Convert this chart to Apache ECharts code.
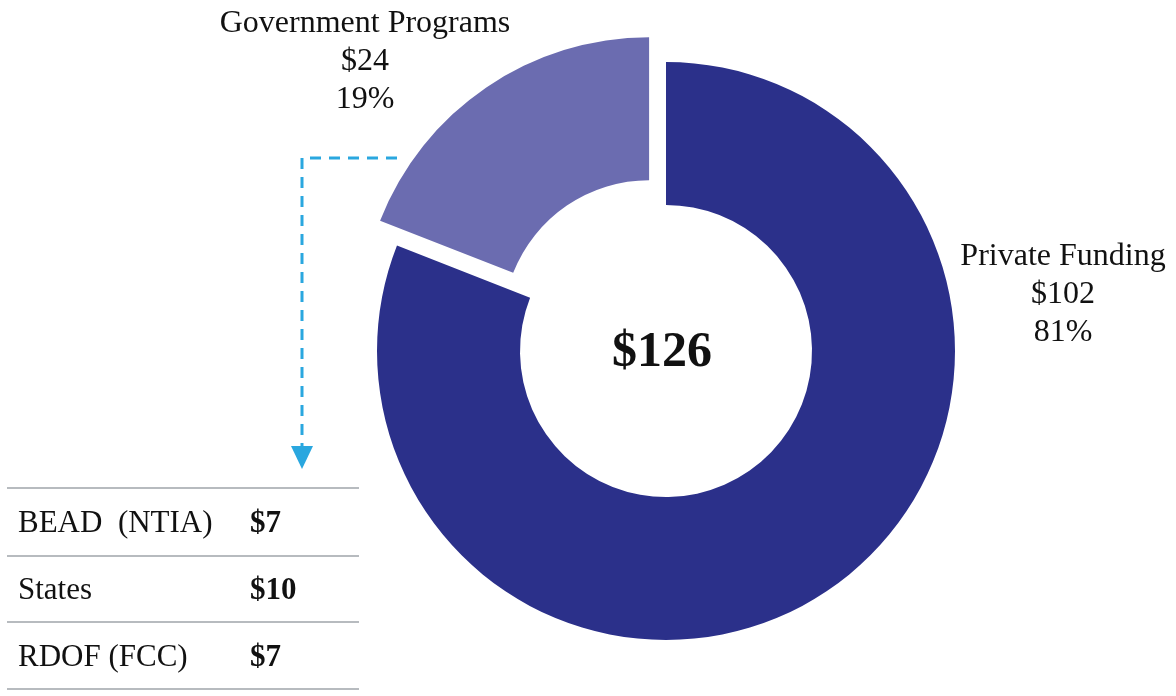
<!DOCTYPE html>
<html>
<head>
<meta charset="utf-8">
<script src="https://cdn.jsdelivr.net/npm/echarts@6/dist/echarts.min.js"></script>
<style>
  html, body { margin: 0; padding: 0; background: #fff; }
  #chart { width: 1176px; height: 696px; }
</style>
</head>
<body>
<div id="chart"></div>
<script>
// funding split (billions)
const sliceNames = ['Private Funding', 'Government Programs'];
const sliceValues = [102, 24];
const sliceColors = ['#2b308a', '#6b6cb0'];

// breakdown of government programs
const programNames = ['BEAD  (NTIA)', 'States', 'RDOF (FCC)'];
const programValues = [7, 10, 7];

const serif = "'Liberation Serif', 'Times New Roman', serif";
const total = sliceValues.reduce((a, b) => a + b, 0);

// where each slice label sits (centre of the 3-line block)
const labelSpots = [[1063, 295], [365, 62]];

let chart = echarts.init(document.getElementById('chart'));

let graphics = [];

// slice labels
sliceNames.forEach((name, i) => {
  let pct = Math.round(sliceValues[i] / total * 100);
  graphics.push({
    type: 'text', x: labelSpots[i][0], y: labelSpots[i][1],
    style: {
      text: name + '\n$' + sliceValues[i] + '\n' + pct + '%',
      font: '32px ' + serif, lineHeight: 38, fill: '#111',
      align: 'center', verticalAlign: 'middle'
    }
  });
});

// centre total
graphics.push({
  type: 'text', x: 662, y: 353,
  style: { text: '$' + total, font: 'bold 50px ' + serif, fill: '#111', align: 'center', verticalAlign: 'middle' }
});

// dashed arrow from the gov slice down to the table
graphics.push({
  type: 'polyline',
  shape: { points: [[397, 158], [302, 158], [302, 446]] },
  style: { stroke: '#2aa7df', lineWidth: 3, lineDash: [11, 8], fill: null }
});
graphics.push({
  type: 'polygon',
  shape: { points: [[291, 446], [313, 446], [302, 469]] },
  style: { fill: '#2aa7df' }
});

// table lines
const rowLines = [488, 556, 622, 689];
rowLines.forEach(y => {
  graphics.push({
    type: 'line',
    shape: { x1: 7, y1: y, x2: 359, y2: y },
    style: { stroke: '#b7bbbf', lineWidth: 2 }
  });
});

// table rows
programNames.forEach((name, i) => {
  let cy = (rowLines[i] + rowLines[i + 1]) / 2 + 2;
  graphics.push({
    type: 'text', x: 18, y: cy,
    style: { text: name, font: '31px ' + serif, fill: '#111', verticalAlign: 'middle' }
  });
  graphics.push({
    type: 'text', x: 250, y: cy,
    style: { text: '$' + programValues[i], font: 'bold 31px ' + serif, fill: '#111', verticalAlign: 'middle' }
  });
});

let option = {
  backgroundColor: '#fff',
  animation: false,
  series: [{
    type: 'pie',
    center: [666, 351],
    radius: [146, 289],
    startAngle: 90,
    clockwise: true,
    selectedMode: 'single',
    selectedOffset: 30,
    avoidLabelOverlap: false,
    label: { show: false },
    labelLine: { show: false },
    emphasis: { disabled: true },
    data: sliceNames.map((n, i) => ({
      name: n,
      value: sliceValues[i],
      selected: i === 1,
      itemStyle: { color: sliceColors[i] }
    }))
  }],
  graphic: graphics
};

chart.setOption(option);
</script>
</body>
</html>
